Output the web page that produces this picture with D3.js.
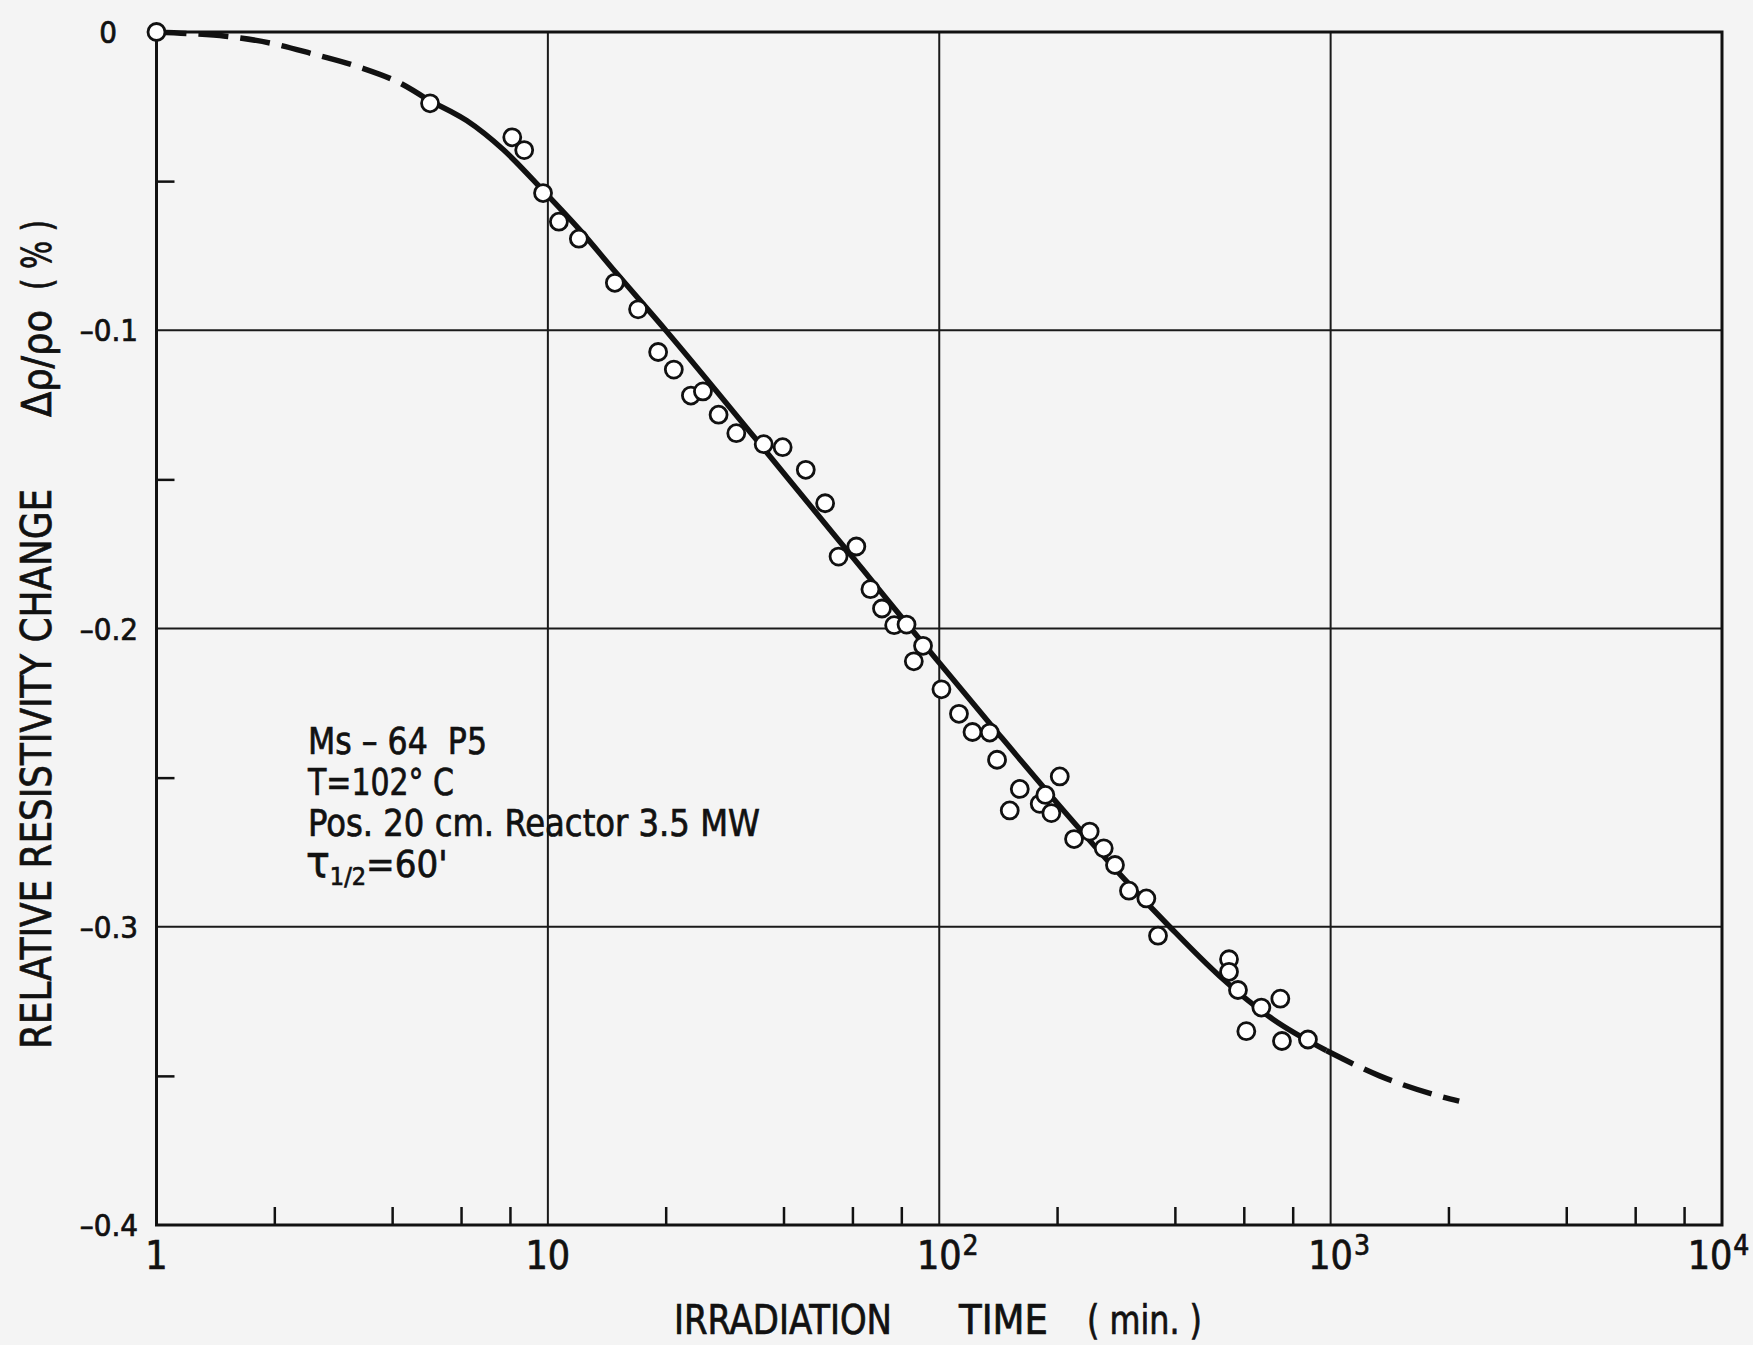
<!DOCTYPE html>
<html>
<head>
<meta charset="utf-8">
<script src="https://cdn.jsdelivr.net/npm/d3@7"></script>
<style>
  body { margin: 0; background: #f4f4f4; }
  svg { display: block; }
  text { font-family: "DejaVu Sans Condensed", "DejaVu Sans", sans-serif; fill: #111; stroke: #111; stroke-width: 0.7px; }
</style>
</head>
<body>
<svg id="chart"></svg>
<script>
// measured points (irradiation time in min, delta rho / rho0 in %)
const timeMin = [1, 5.0, 8.11, 8.70, 9.72, 10.67, 12.0, 14.83, 17.0, 19.13, 20.98, 23.2, 24.9, 27.3, 30.3,
  35.6, 39.8, 45.6, 51.1, 55.3, 61.4, 66.7, 71.4, 76.7, 82.5, 86.1, 90.9, 101.3, 112.3, 121.6, 134.6,
  140.5, 151.4, 160.6, 180.6, 186.7, 193.4, 203.2, 221, 242.3, 263.2, 281.2, 305.3, 338.2, 362.2,
  550, 550, 579.8, 609, 665.3, 743.9, 751, 875]
const deltaRho = [0, -0.0239, -0.0353, -0.0396, -0.054, -0.0636, -0.0693, -0.0841, -0.093, -0.1073, -0.1132, -0.1219, -0.1205, -0.1283, -0.1345,
  -0.1382, -0.1392, -0.1468, -0.158, -0.1759, -0.1725, -0.1868, -0.1933, -0.1989, -0.1987, -0.211, -0.2058, -0.2204, -0.2286, -0.2347, -0.2349,
  -0.244, -0.261, -0.2538, -0.2588, -0.2558, -0.2619, -0.2496, -0.2706, -0.2681, -0.2737, -0.2793, -0.2879, -0.2905, -0.303,
  -0.3109, -0.3151, -0.3212, -0.335, -0.3271, -0.3241, -0.3383, -0.3378]

// fitted curve
const fitTime = [1, 1.2, 1.5, 2, 2.5, 3.3, 4.2, 5, 6.2, 7.7, 9.7, 12, 15, 20, 34, 48, 64, 84, 100,
  140, 200, 290, 388, 520, 712, 975, 1334, 1900, 2130]
const fitValue = [0, -0.0005, -0.0014, -0.004, -0.0073, -0.0118, -0.0172, -0.0232, -0.0297, -0.0395, -0.053, -0.066, -0.081, -0.1, -0.1365, -0.1605, -0.1805, -0.1995, -0.2115,
  -0.2345, -0.2585, -0.2825, -0.3, -0.3165, -0.331, -0.3415, -0.35, -0.3568, -0.3585]
const solidFrom = 5,
  solidTo = 975

const xMajor = [1, 10, 100, 1000, 10000]
const xMajorBase = ['1', '10', '10', '10', '10']
const xMajorExp = ['', '', '2', '3', '4']
const xMinor = [2, 4, 6, 8, 20, 40, 60, 80, 200, 400, 600, 800, 2000, 4000, 6000, 8000]
const xGrid = [10, 100, 1000]
const yMajor = [0, -0.1, -0.2, -0.3, -0.4]
const yMajorLabels = ['0', '–0.1', '–0.2', '–0.3', '–0.4']
const yMinor = [-0.05, -0.15, -0.25, -0.35]
const yGrid = [-0.1, -0.2, -0.3]
const noteLines = ['Ms – 64  P5', 'T=102° C', 'Pos. 20 cm. Reactor 3.5 MW']
const noteWidths = [179, 146, 452]

var w = 1753,
  h = 1345,
  plotL = 156.5,
  plotR = 1722,
  plotT = 32,
  plotB = 1225

var svg = d3.select('#chart').attr('width', w).attr('height', h)

var x = d3.scaleLog().domain([1, 10000]).range([plotL, plotR])
var y = d3.scaleLinear().domain([0, -0.4]).range([plotT, plotB])

// grid
svg.append('g')
  .selectAll('line')
  .data(xGrid)
  .join('line')
  .attr('x1', d => x(d)).attr('x2', d => x(d))
  .attr('y1', plotT).attr('y2', plotB)
  .attr('stroke', '#1a1a1a').attr('stroke-width', 2)

svg.append('g')
  .selectAll('line')
  .data(yGrid)
  .join('line')
  .attr('x1', plotL).attr('x2', plotR)
  .attr('y1', d => y(d)).attr('y2', d => y(d))
  .attr('stroke', '#1a1a1a').attr('stroke-width', 2)

// minor ticks pointing inward
var gx = svg.append('g')
  .attr('transform', 'translate(0,' + plotB + ')')
  .call(d3.axisBottom(x).tickValues(xMinor).tickSize(-18).tickFormat(''))
gx.select('.domain').remove()
gx.selectAll('line').attr('stroke', '#111').attr('stroke-width', 2.5)

var gy = svg.append('g')
  .attr('transform', 'translate(' + plotL + ',0)')
  .call(d3.axisLeft(y).tickValues(yMinor).tickSize(-18).tickFormat(''))
gy.select('.domain').remove()
gy.selectAll('line').attr('stroke', '#111').attr('stroke-width', 2.5)

// frame
svg.append('rect')
  .attr('x', plotL).attr('y', plotT)
  .attr('width', plotR - plotL).attr('height', plotB - plotT)
  .attr('fill', 'none').attr('stroke', '#111').attr('stroke-width', 3)

// x tick labels
xMajor.forEach(function(v, i) {
  var t = svg.append('text')
    .attr('x', x(v)).attr('y', 1269)
    .attr('text-anchor', 'middle')
    .attr('font-size', 39)
    .text(xMajorBase[i])
  if (xMajorExp[i]) {
    var bw = t.node().getComputedTextLength()
    var shift = v === 10000 ? -12 : 0
    t.attr('x', x(v) + shift)
    svg.append('text')
      .attr('x', x(v) + shift + bw / 2 + 1).attr('y', 1255)
      .attr('font-size', 28)
      .text(xMajorExp[i])
  }
})

// y tick labels
svg.append('g')
  .selectAll('text')
  .data(yMajor)
  .join('text')
  .attr('x', d => (d === 0 ? 117 : 138))
  .attr('y', d => y(d) + 11)
  .attr('text-anchor', 'end')
  .attr('font-size', 31)
  .text((d, i) => yMajorLabels[i])

// fitted curve
var pts = fitTime.map((t, i) => [t, fitValue[i]])
var line = d3.line()
  .x(d => x(d[0]))
  .y(d => y(d[1]))
  .curve(d3.curveMonotoneX)

var parts = [
  { pts: pts.filter(d => d[0] <= solidFrom), dash: '30,12' },
  { pts: pts.filter(d => d[0] >= solidFrom && d[0] <= solidTo), dash: null },
  { pts: pts.filter(d => d[0] >= solidTo), dash: '30,12' }
]
svg.append('g')
  .selectAll('path')
  .data(parts)
  .join('path')
  .attr('d', d => line(d.pts))
  .attr('fill', 'none')
  .attr('stroke', '#111')
  .attr('stroke-width', 5.5)
  .attr('stroke-dasharray', d => d.dash)

// measured points
svg.append('g')
  .selectAll('circle')
  .data(timeMin.map((t, i) => [t, deltaRho[i]]))
  .join('circle')
  .attr('cx', d => x(d[0]))
  .attr('cy', d => y(d[1]))
  .attr('r', 8.5)
  .attr('fill', '#fff')
  .attr('stroke', '#111')
  .attr('stroke-width', 2.8)

// note
svg.append('g')
  .selectAll('text')
  .data(noteLines)
  .join('text')
  .attr('x', 308)
  .attr('y', (d, i) => 754 + i * 41)
  .attr('font-size', 38)
  .attr('textLength', (d, i) => noteWidths[i])
  .attr('lengthAdjust', 'spacingAndGlyphs')
  .style('white-space', 'pre')
  .text(d => d)

var tau = svg.append('text').attr('x', 306).attr('y', 877).attr('font-size', 38)
tau.append('tspan').attr('font-size', 44).text('τ')
tau.append('tspan').attr('font-size', 25).attr('dy', 8).text('1/2')
tau.append('tspan').attr('dy', -8).text('=60\'')

// axis titles
var xt = svg.append('text').attr('y', 1334).attr('font-size', 40)
xt.append('tspan').attr('x', 674).attr('textLength', 218).attr('lengthAdjust', 'spacingAndGlyphs').text('IRRADIATION')
xt.append('tspan').attr('x', 959).attr('textLength', 89).attr('lengthAdjust', 'spacingAndGlyphs').text('TIME')
xt.append('tspan').attr('x', 1087).attr('textLength', 115).attr('lengthAdjust', 'spacingAndGlyphs').text('( min. )')

svg.append('text')
  .attr('transform', 'translate(51,1049)rotate(-90)')
  .attr('font-size', 42)
  .attr('textLength', 560)
  .attr('lengthAdjust', 'spacingAndGlyphs')
  .text('RELATIVE RESISTIVITY CHANGE')

svg.append('text')
  .attr('transform', 'translate(51,417)rotate(-90)')
  .attr('font-size', 40)
  .attr('textLength', 107)
  .attr('lengthAdjust', 'spacingAndGlyphs')
  .text('Δρ/ρo')

svg.append('text')
  .attr('transform', 'translate(51,290)rotate(-90)')
  .attr('font-size', 40)
  .attr('textLength', 70)
  .attr('lengthAdjust', 'spacingAndGlyphs')
  .style('white-space', 'pre')
  .text('( % )')
</script>
</body>
</html>
